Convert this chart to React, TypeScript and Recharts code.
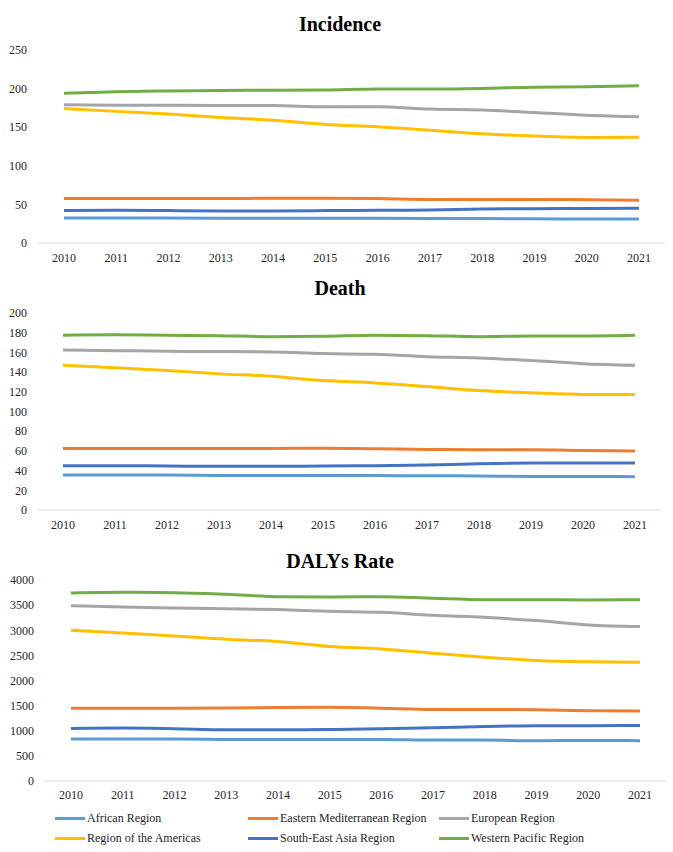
import React from 'react'
import { LineChart, Line, XAxis, YAxis } from 'recharts'

const years = ['2010', '2011', '2012', '2013', '2014', '2015', '2016', '2017', '2018', '2019', '2020', '2021']

const regions = [
    'African Region',
    'Eastern Mediterranean Region',
    'European Region',
    'Region of the Americas',
    'South-East Asia Region',
    'Western Pacific Region',
]

const regionColors = ['#5B9BD5', '#ED7D31', '#A5A5A5', '#FFC000', '#4472C4', '#70AD47']

// Incidence
const incidenceAfrican = [32.5, 32.5, 32.3, 32.2, 32.2, 32.1, 32, 31.8, 31.6, 31.3, 31.2, 31]
const incidenceEastMed = [57.5, 57.5, 57.5, 57.5, 58, 58, 57.5, 56.5, 56.5, 56.5, 56, 55.5]
const incidenceEurope = [179, 178.5, 178.3, 178.2, 178, 176.5, 176.5, 173.5, 172.3, 169, 165.5, 163.5]
const incidenceAmericas = [174, 170.5, 167, 162.5, 159, 153.5, 150.5, 146, 141.5, 138.5, 136.8, 137]
const incidenceSEAsia = [42, 42.3, 42, 41.5, 41.5, 42, 42.3, 42.7, 44, 44.5, 44.7, 45]
const incidenceWPacific = [194, 196, 197, 197.7, 197.8, 198.2, 199.5, 199.5, 200.2, 201.8, 202.3, 203.8]

// Death
const deathAfrican = [35.5, 35.5, 35.5, 35.1, 35, 35, 34.9, 34.8, 34.5, 34.1, 34.1, 33.8]
const deathEastMed = [62.5, 62.5, 62.5, 62.5, 62.5, 62.8, 62.2, 61.5, 61.1, 61.1, 60.5, 59.8]
const deathEurope = [162.5, 161.8, 161.2, 160.8, 160.5, 158.8, 158, 155.7, 154.4, 151.7, 148.6, 147]
const deathAmericas = [147, 144.3, 141.5, 138.2, 135.8, 131.4, 129, 125.3, 121.3, 119, 117.3, 117.2]
const deathSEAsia = [45, 45, 44.6, 44.3, 44.3, 44.6, 45, 45.6, 47, 47.6, 47.6, 47.8]
const deathWPacific = [177.4, 177.8, 177.4, 177, 176, 176.4, 177.4, 177, 176, 176.7, 176.7, 177.4]

// DALYs rate
const dalysAfrican = [834, 834, 834, 828, 828, 828, 828, 815, 815, 801, 808, 801]
const dalysEastMed = [1450, 1450, 1450, 1452, 1464, 1470, 1450, 1424, 1424, 1417, 1397, 1391]
const dalysEurope = [3490, 3464, 3444, 3430, 3411, 3377, 3357, 3298, 3258, 3192, 3106, 3073]
const dalysAmericas = [3000, 2947, 2887, 2821, 2775, 2675, 2629, 2543, 2464, 2397, 2371, 2364]
const dalysSEAsia = [1046, 1053, 1040, 1020, 1020, 1026, 1040, 1060, 1086, 1099, 1099, 1106]
const dalysWPacific = [3742, 3755, 3748, 3715, 3668, 3662, 3668, 3636, 3609, 3609, 3603, 3609]

const incidenceTicks = [0, 50, 100, 150, 200, 250]
const deathTicks = [0, 20, 40, 60, 80, 100, 120, 140, 160, 180, 200]
const dalysTicks = [0, 500, 1000, 1500, 2000, 2500, 3000, 3500, 4000]

const FONT = '"Liberation Serif", "Times New Roman", "DejaVu Serif", serif'

function buildRows(series: number[][]) {
    return years.map((year, i) => {
        const row: Record<string, string | number> = { year }
        series.forEach((s, k) => {
            row[`r${k}`] = s[i]
        })
        return row
    })
}

const incidenceData = buildRows([incidenceAfrican, incidenceEastMed, incidenceEurope, incidenceAmericas, incidenceSEAsia, incidenceWPacific])
const deathData = buildRows([deathAfrican, deathEastMed, deathEurope, deathAmericas, deathSEAsia, deathWPacific])
const dalysData = buildRows([dalysAfrican, dalysEastMed, dalysEurope, dalysAmericas, dalysSEAsia, dalysWPacific])

interface PanelProps {
    data: Record<string, string | number>[]
    ticks: number[]
    top: number
    height: number
    margin: { top: number; right: number; left: number; bottom: number }
    yWidth: number
    yMargin: number
    xMargin: number
}

function Panel({ data, ticks, top, height, margin, yWidth, yMargin, xMargin }: PanelProps) {
    return (
        <div style={{ position: 'absolute', left: 0, top, fontFamily: FONT }}>
            <LineChart width={673} height={height} data={data} margin={margin}>
                <XAxis
                    dataKey="year"
                    axisLine={{ stroke: '#d9d9d9', strokeWidth: 1 }}
                    tickLine={false}
                    tickMargin={xMargin}
                    height={25}
                    padding={{ left: 26, right: 26 }}
                    interval={0}
                    tick={{ fill: '#262626', fontSize: 12, fontFamily: FONT }}
                />
                <YAxis
                    domain={[ticks[0], ticks[ticks.length - 1]]}
                    ticks={ticks}
                    axisLine={false}
                    tickLine={false}
                    width={yWidth}
                    tickMargin={yMargin}
                    interval={0}
                    tick={{ fill: '#262626', fontSize: 12, fontFamily: FONT }}
                />
                {regions.map((name, k) => (
                    <Line
                        key={name}
                        name={name}
                        dataKey={`r${k}`}
                        type="monotone"
                        stroke={regionColors[k]}
                        strokeWidth={3}
                        dot={false}
                        activeDot={false}
                        isAnimationActive={false}
                    />
                ))}
            </LineChart>
        </div>
    )
}

function Title({ text, center }: { text: string; center: number }) {
    return (
        <div
            style={{
                position: 'absolute',
                left: 0,
                width: 680,
                top: center - 12,
                height: 24,
                lineHeight: '24px',
                textAlign: 'center',
                fontFamily: FONT,
                fontWeight: 'bold',
                fontSize: 20,
                color: '#000',
            }}
        >
            {text}
        </div>
    )
}

const legendCols = [55, 248, 439]
const legendRows = [818, 838]

export default function App() {
    return (
        <div style={{ position: 'absolute', left: 0, top: 0, width: 673, height: 852, background: '#fff', fontFamily: FONT }}>
            <Title text="Incidence" center={24} />
            <Panel
                data={incidenceData}
                ticks={incidenceTicks}
                top={0}
                height={275}
                margin={{ top: 50, right: 8, left: 0, bottom: 7 }}
                yWidth={38}
                yMargin={5}
                xMargin={4}
            />

            <Title text="Death" center={288} />
            <Panel
                data={deathData}
                ticks={deathTicks}
                top={270}
                height={270}
                margin={{ top: 43, right: 12, left: 0, bottom: 5 }}
                yWidth={37}
                yMargin={4}
                xMargin={4}
            />

            <Title text="DALYs Rate" center={561} />
            <Panel
                data={dalysData}
                ticks={dalysTicks}
                top={540}
                height={270}
                margin={{ top: 40, right: 7, left: 0, bottom: 4 }}
                yWidth={45}
                yMargin={5}
                xMargin={3}
            />

            {regions.map((name, k) => (
                <div
                    key={name}
                    style={{
                        position: 'absolute',
                        left: legendCols[k % 3],
                        top: legendRows[Math.floor(k / 3)] - 9,
                        height: 18,
                        display: 'flex',
                        alignItems: 'center',
                        fontFamily: FONT,
                        fontSize: 12,
                        color: '#262626',
                        whiteSpace: 'nowrap',
                    }}
                >
                    <span style={{ display: 'inline-block', width: 30, height: 3, background: regionColors[k], marginRight: 2 }} />
                    <span>{name}</span>
                </div>
            ))}
        </div>
    )
}
